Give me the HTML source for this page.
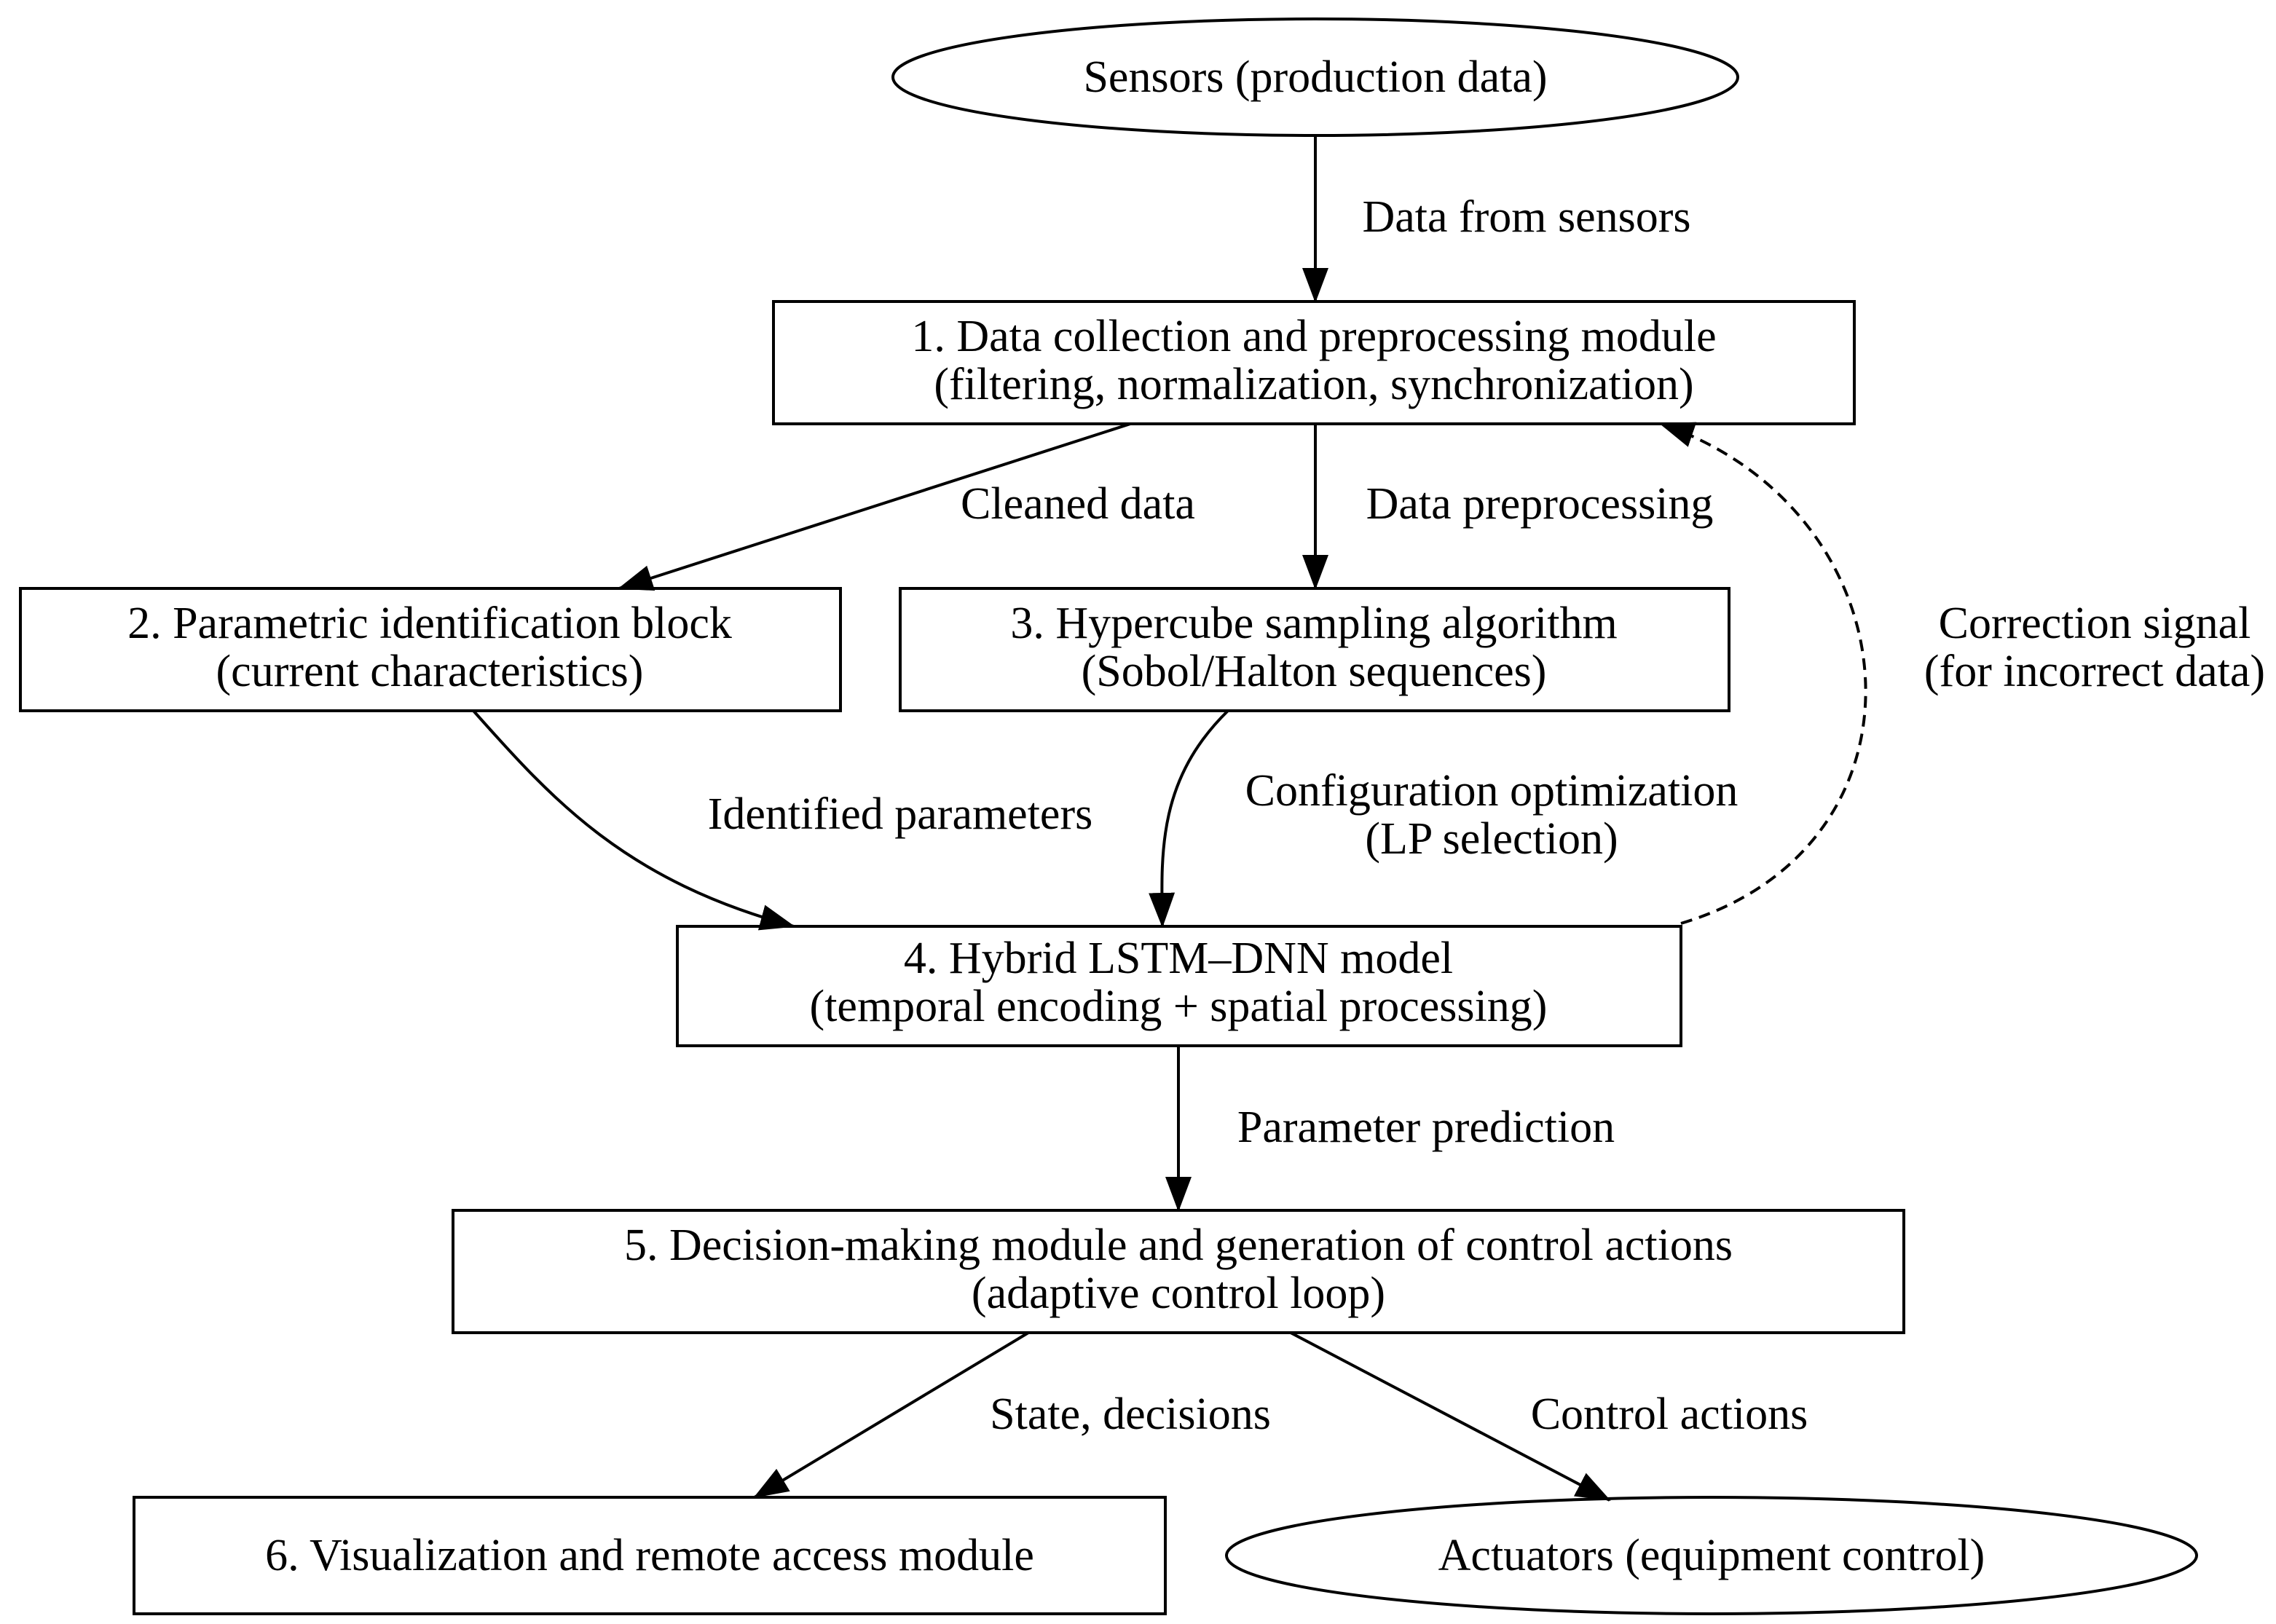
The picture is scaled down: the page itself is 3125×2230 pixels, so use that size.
<!DOCTYPE html>
<html><head><meta charset="utf-8"><style>
html,body{margin:0;padding:0;background:#fff;}
svg{display:block;}
text{font-family:"Liberation Serif",serif;font-size:31px;fill:#000;text-anchor:middle;}
</style></head><body>
<svg width="3125" height="2230" viewBox="0 0 1562.5 1115" xmlns="http://www.w3.org/2000/svg">
<defs>
<marker id="b" markerWidth="24" markerHeight="20" refX="23" refY="10" orient="auto" markerUnits="userSpaceOnUse" viewBox="0 0 24 20">
<path d="M0,1 L24,10 L0,19 Z" fill="#000"/>
</marker>
</defs>
<g fill="none" stroke="#000" stroke-width="2">
<ellipse cx="903" cy="53" rx="290" ry="40"/>
<rect x="531" y="207" width="742" height="84"/>
<rect x="14" y="404" width="563" height="84"/>
<rect x="618" y="404" width="569" height="84"/>
<rect x="465" y="636" width="689" height="82"/>
<rect x="311" y="831" width="996" height="84"/>
<rect x="92" y="1028" width="708" height="80"/>
<ellipse cx="1175" cy="1068" rx="333" ry="40"/>
<path d="M903,93 L903,207" marker-end="url(#b)"/>
<path d="M776,291 L425,404" marker-end="url(#b)"/>
<path d="M903,291 L903,404" marker-end="url(#b)"/>
<path d="M325,488 C380,550 430,605 545,636" marker-end="url(#b)"/>
<path d="M843,488 C795,535 797,585 798,636" marker-end="url(#b)"/>
<path d="M1154,634 C1335,580 1315,350 1140,291" stroke-dasharray="8,5" marker-end="url(#b)"/>
<path d="M809,718 L809,831" marker-end="url(#b)"/>
<path d="M706,915 L518,1028" marker-end="url(#b)"/>
<path d="M886,915 L1105,1030" marker-end="url(#b)"/>
</g>
<text x="903" y="63">Sensors (production data)</text>
<text x="902" y="241">1. Data collection and preprocessing module</text>
<text x="902" y="274">(filtering, normalization, synchronization)</text>
<text x="295" y="438">2. Parametric identification block</text>
<text x="295" y="471">(current characteristics)</text>
<text x="902" y="438">3. Hypercube sampling algorithm</text>
<text x="902" y="471">(Sobol/Halton sequences)</text>
<text x="809" y="668">4. Hybrid LSTM–DNN model</text>
<text x="809" y="701">(temporal encoding + spatial processing)</text>
<text x="809" y="865">5. Decision-making module and generation of control actions</text>
<text x="809" y="898">(adaptive control loop)</text>
<text x="446" y="1078">6. Visualization and remote access module</text>
<text x="1175" y="1078">Actuators (equipment control)</text>
<text x="1048" y="159">Data from sensors</text>
<text x="740" y="356">Cleaned data</text>
<text x="1057" y="356">Data preprocessing</text>
<text x="1438" y="438">Correction signal</text>
<text x="1438" y="471">(for incorrect data)</text>
<text x="618" y="569">Identified parameters</text>
<text x="1024" y="553">Configuration optimization</text>
<text x="1024" y="586">(LP selection)</text>
<text x="979" y="784">Parameter prediction</text>
<text x="776" y="981">State, decisions</text>
<text x="1146" y="981">Control actions</text>
</svg>
</body></html>
